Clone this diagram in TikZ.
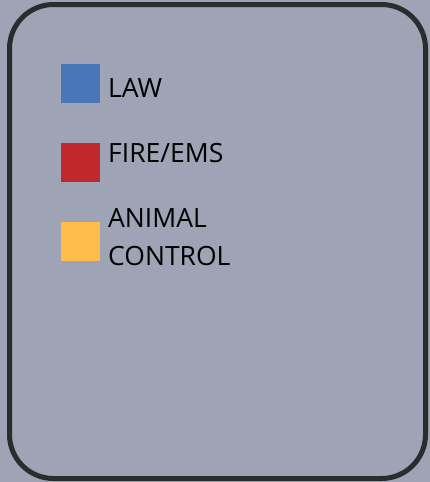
\documentclass[tikz,border=0pt]{standalone}
\usepackage{fontspec}
\setmainfont{Open Sans}
\definecolor{PanelGray} {RGB}{158,163,182}
\definecolor{FrameDark} {RGB}{38,47,45}
\definecolor{LawBlue}   {RGB}{74,118,184}
\definecolor{FireRed}   {RGB}{192,40,43}
\definecolor{AnimalGold}{RGB}{253,189,72}
\usetikzlibrary{positioning}

\begin{document}
\begin{tikzpicture}[x=1pt,y=-1pt,every node/.style={font=\fontsize{26.5}{38}\selectfont}]
  %% Panel
  \useasboundingbox (0,0) rectangle (430,482);
  \fill[PanelGray] (0,0) rectangle (430,482);
  \draw[FrameDark,line width=5pt,rounded corners=44pt] (9.5,4.5) rectangle (425.5,478.5);
  %% Legend
  \foreach \n/\y/\b/\fc/\t in {
      law/83.5/97.5/LawBlue/{LAW},
      fire/162.5/162/FireRed/{FIRE/EMS},
      animal/241.5/265/AnimalGold/{ANIMAL\\CONTROL}}{
    \node[fill=\fc,minimum size=39pt,inner sep=0pt] (\n) at (80.5,\y) {};
    \node[anchor=base west,inner sep=0pt,align=left] (\n-label) at (108,\b) {\t};
  }
\end{tikzpicture}
\end{document}
